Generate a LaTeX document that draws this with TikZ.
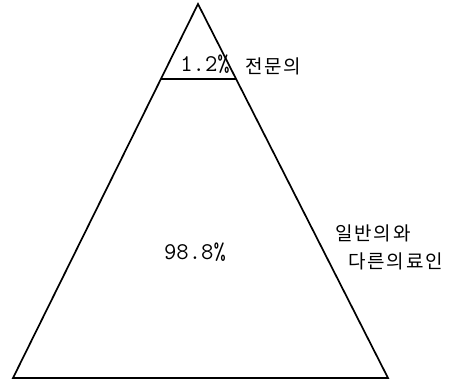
\documentclass[tikz,border=0pt]{standalone}
\usepackage{fontspec}
\newfontfamily\kr{Noto Sans CJK KR}
\usetikzlibrary{calc}
\tikzset{
  edge/.style={line width=1.7pt, line join=miter},
  num/.style={inner sep=0pt, font=\ttfamily\fontsize{24}{24}\selectfont},
  kor/.style={inner sep=0pt, font=\kr\fontsize{19}{19}\selectfont\addfontfeature{LetterSpace=10}}
}
\begin{document}
\begin{tikzpicture}[x=1pt,y=1pt]
\useasboundingbox (0,0) rectangle (465,380);
\coordinate (top) at (198,376);
\coordinate (bl) at (13,2);
\coordinate (br) at (388,2);
\coordinate (cl) at ($(top)!0.2005!(bl)$);
\coordinate (cr) at ($(top)!0.2005!(br)$);
\draw[edge] (top) -- (bl) -- (br) -- cycle;
\draw[edge] (cl) -- (cr);
\node[num] (p1) at (205,316) {1.2\%};
\node[kor, anchor=west] (k1) at (245,314) {전문의};
\node[num] (p2) at (195,128) {98.8\%};
\node[kor, anchor=west] (k2) at (335,147) {일반의와};
\node[kor, anchor=west] (k3) at (348,119) {다른의료인};
\end{tikzpicture}
\end{document}
